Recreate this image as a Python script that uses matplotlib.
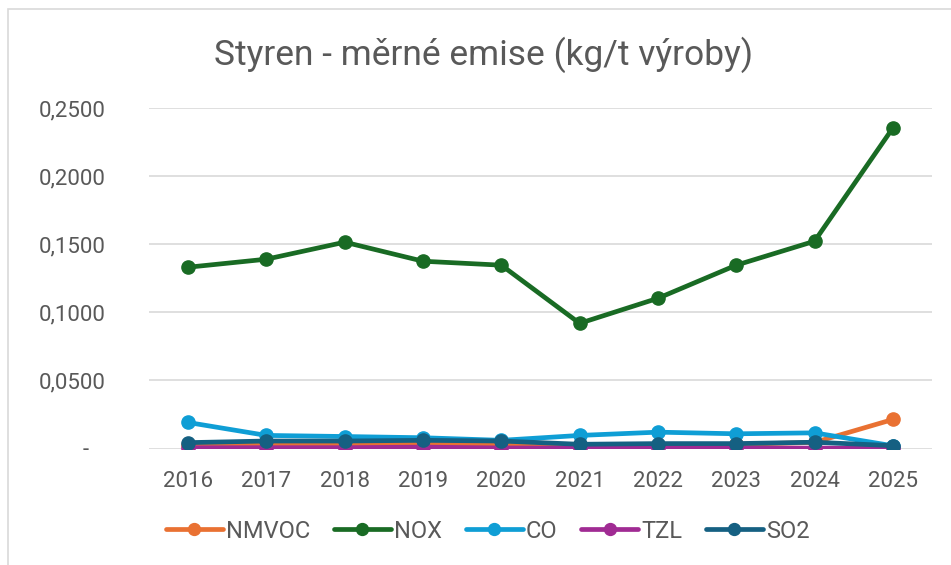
import matplotlib.pyplot as plt
from matplotlib.patches import Rectangle

years = ['2016', '2017', '2018', '2019', '2020', '2021', '2022', '2023', '2024', '2025']
nmvoc = [0.0025, 0.0030, 0.0030, 0.0035, 0.0030, 0.0020, 0.0025, 0.0030, 0.0045, 0.0213]
nox = [0.1331, 0.1390, 0.1515, 0.1375, 0.1346, 0.0919, 0.1103, 0.1346, 0.1522, 0.2353]
co = [0.0191, 0.0096, 0.0088, 0.0079, 0.0060, 0.0096, 0.0120, 0.0108, 0.0115, 0.0020]
tzl = [0.0005, 0.0006, 0.0006, 0.0010, 0.0004, 0.0003, 0.0003, 0.0003, 0.0003, 0.0003]
so2 = [0.0043, 0.0055, 0.0055, 0.0060, 0.0055, 0.0031, 0.0036, 0.0036, 0.0046, 0.0021]

series = [('NMVOC', nmvoc, '#E97132'), ('NOX', nox, '#196B24'), ('CO', co, '#0F9ED5'),
          ('TZL', tzl, '#A02B93'), ('SO2', so2, '#156082')]

plt.rcParams['font.family'] = ['Roboto', 'DejaVu Sans']
txt = '#595959'

fig = plt.figure(figsize=(9.51, 5.65), dpi=100)
fig.patches.append(Rectangle((8 / 951, -0.1), 1.2, 1 - 9 / 565 + 0.1, transform=fig.transFigure,
                             fill=False, edgecolor='#D9D9D9', linewidth=1.2))
ax = fig.add_axes([149 / 951, 1 - 448.5 / 565, (932 - 149) / 951, (448.5 - 108) / 565])

x = list(range(len(years)))
for name, vals, col in series:
    ax.plot(x, vals, color=col, linewidth=3.4, marker='o', markersize=9.5,
            solid_capstyle='round', label=name)

ax.set_xlim(-0.5, len(years) - 0.5)
ax.set_ylim(0, 0.25)
yt = [0, 0.05, 0.10, 0.15, 0.20, 0.25]
ax.set_yticks(yt)
ax.set_yticklabels(['-   '] + ['0,' + ('%.4f' % v)[2:] for v in yt[1:]])
ax.set_xticks(x)
ax.set_xticklabels(years)
ax.tick_params(length=0, labelsize=16, colors=txt)
ax.tick_params(axis='y', pad=31)
ax.tick_params(axis='x', pad=16)
ax.grid(axis='y', color='#D9D9D9', linewidth=1.2)
ax.set_axisbelow(True)
for s in ax.spines.values():
    s.set_visible(False)

fig.text(484 / 951, 1 - 55 / 565, 'Styren - měrné emise (kg/t výroby)', ha='center', va='center',
         fontsize=25.5, color=txt)

fig.legend(loc='center', bbox_to_anchor=(488 / 951, 1 - 531 / 565), ncol=5, frameon=False,
           fontsize=17, labelcolor=txt, handlelength=2.4, handletextpad=0.15, columnspacing=1.0,
           markerscale=0.9)

fig.savefig('out.png', dpi=100)
